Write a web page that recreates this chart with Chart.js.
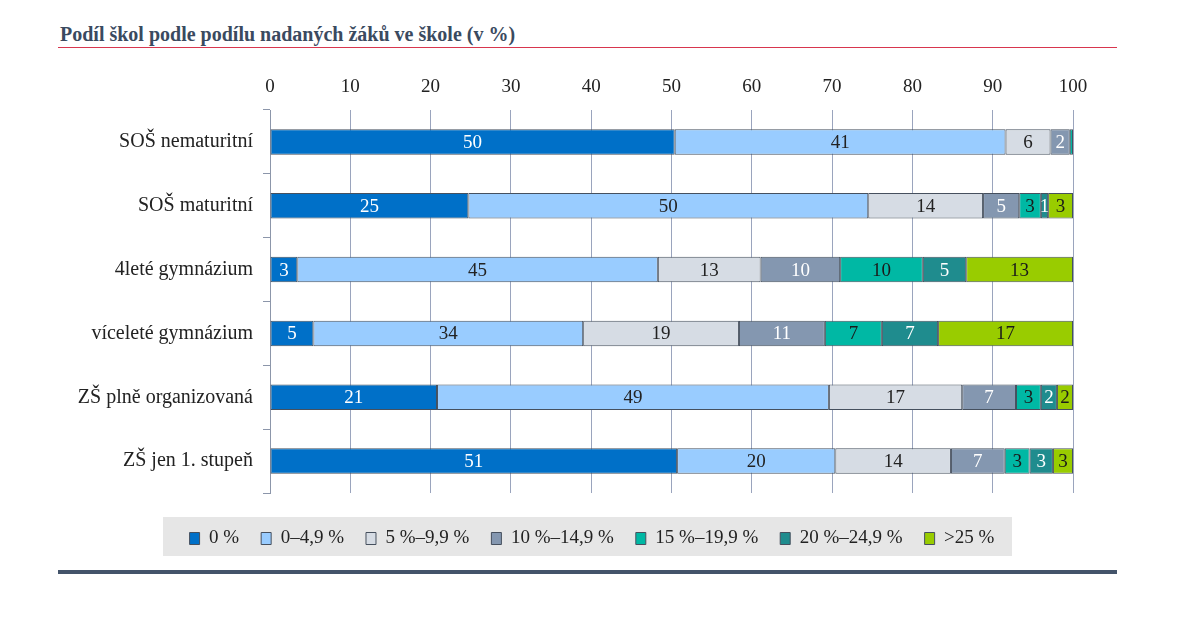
<!DOCTYPE html>
<html>
<head>
<meta charset="utf-8">
<script src="https://cdn.jsdelivr.net/npm/chart.js@4"></script>
<style>
  body { margin: 0; background: #fff; }
  #wrap { position: relative; width: 1200px; height: 621px; overflow: hidden; }
  #title { position: absolute; left: 60px; top: 23px; font: bold 20px "Liberation Serif", serif; color: #3a4a5f; }
  #redline { position: absolute; left: 58px; top: 47px; width: 1059px; height: 1px; background: #d8364e; }
  #legendbg { position: absolute; left: 163px; top: 517px; width: 849px; height: 39px; background: #e6e6e6; }
  #bottomline { position: absolute; left: 58px; top: 570px; width: 1059px; height: 4px; background: #44546a; }
  #myChart { position: absolute; left: 0; top: 0; }
</style>
</head>
<body>
<div id="wrap">
  <div id="title">Podíl škol podle podílu nadaných žáků ve škole (v %)</div>
  <div id="redline"></div>
  <div id="legendbg"></div>
  <div id="bottomline"></div>
  <canvas id="myChart" width="1200" height="621"></canvas>
</div>
<script>
// categories (rows, top to bottom)
let schools = ['SOŠ nematuritní', 'SOŠ maturitní', '4leté gymnázium', 'víceleté gymnázium', 'ZŠ plně organizovaná', 'ZŠ jen 1. stupeň'];

// share of schools in each band (%)
let band0    = [50.4, 24.7, 3.4, 5.4, 20.8, 50.7];
let band0_5  = [41.2, 49.8, 44.9, 33.6, 48.8, 19.7];
let band5_10 = [5.6, 14.3, 12.8, 19.4, 16.6, 14.4];
let band10_15 = [2.4, 4.5, 9.9, 10.7, 6.7, 6.7];
let band15_20 = [0.4, 2.7, 10.3, 7.1, 3.1, 3.1];
let band20_25 = [0, 0.9, 5.4, 7.0, 2.0, 2.9];
let band25   = [0, 3.1, 13.3, 16.8, 2.0, 2.5];

let bandNames = ['0 %', '0–4,9 %', '5 %–9,9 %', '10 %–14,9 %', '15 %–19,9 %', '20 %–24,9 %', '>25 %'];
let bandColors = ['#0070c8', '#99ccff', '#d6dce4', '#8497b0', '#00b8a4', '#1f8c8e', '#99cc00'];
let labelColors = ['#ffffff', '#222222', '#222222', '#ffffff', '#1a1a1a', '#ffffff', '#1a1a1a'];
let bandData = [band0, band0_5, band5_10, band10_15, band15_20, band20_25, band25];

const serif = '"Liberation Serif", "Times New Roman", serif';

// draws the rounded value in the middle of each segment
const segmentLabels = {
  id: 'segmentLabels',
  afterDatasetsDraw(chart) {
    const ctx = chart.ctx;
    ctx.save();
    ctx.font = '19px ' + serif;
    ctx.textAlign = 'center';
    ctx.textBaseline = 'middle';
    chart.data.datasets.forEach((ds, i) => {
      chart.getDatasetMeta(i).data.forEach((bar, j) => {
        let v = Math.round(ds.data[j]);
        if (!v) return;
        let p = bar.getProps(['x', 'y', 'base'], true);
        ctx.fillStyle = labelColors[i];
        ctx.fillText(String(v), (p.x + p.base) / 2, p.y + 1);
      });
    });
    ctx.restore();
  }
};

// move the legend to sit centred in its grey strip
const legendShift = {
  id: 'legendShift',
  afterLayout(chart) {
    let lg = chart.legend;
    lg.left = 111;
    lg.top += 14;
    lg.bottom += 14;
  }
};

let ctx = document.getElementById('myChart').getContext('2d');

let chart = new Chart(ctx, {
  type: 'bar',
  data: {
    labels: schools,
    datasets: bandData.map((d, i) => ({
      label: bandNames[i],
      data: d,
      backgroundColor: bandColors[i],
      borderColor: '#46505e',
      borderWidth: 1,
      borderSkipped: false,
      barPercentage: 0.8,
      categoryPercentage: 0.5
    }))
  },
  options: {
    indexAxis: 'y',
    responsive: false,
    animation: false,
    layout: { padding: { left: 0, right: 127, top: 60, bottom: 77 } },
    scales: {
      x: {
        position: 'top',
        stacked: true,
        min: 0,
        max: 100,
        ticks: { stepSize: 10, color: '#222', padding: 12, font: { family: serif, size: 19 } },
        grid: { color: '#9aa4bd', drawTicks: false },
        border: { display: false },
        afterFit(scale) { scale.height = 50; }
      },
      y: {
        stacked: true,
        ticks: { color: '#222', padding: 10, font: { family: serif, size: 20 } },
        grid: { drawOnChartArea: false, tickLength: 7, color: '#8c96aa' },
        border: { color: '#8c96aa' },
        afterFit(scale) { scale.width = 270; }
      }
    },
    plugins: {
      legend: {
        position: 'bottom',
        labels: {
          boxWidth: 10,
          boxHeight: 12,
          padding: 22,
          color: '#222',
          font: { family: serif, size: 19 }
        }
      },
      tooltip: { enabled: false }
    }
  },
  plugins: [segmentLabels, legendShift]
});
</script>
</body>
</html>
